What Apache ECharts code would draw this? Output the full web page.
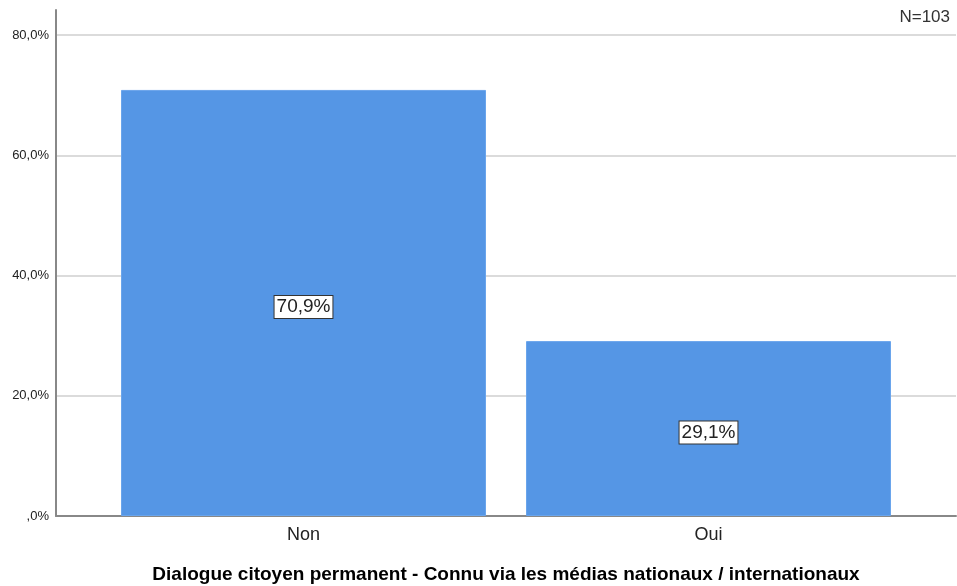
<!DOCTYPE html>
<html>
<head>
<meta charset="utf-8">
<script src="https://cdn.jsdelivr.net/npm/echarts@6/dist/echarts.min.js"></script>
<style>html,body{margin:0;padding:0;background:#fff}#c{width:957px;height:586px}</style>
</head>
<body>
<div id="c"></div>
<script>
var categories = ["Non", "Oui"];
var values = [70.9, 29.1];
var yTicks = [0, 20, 40, 60, 80];
var axisTitle = "Dialogue citoyen permanent - Connu via les médias nationaux / internationaux";
var nLabel = "N=103";

function fmt(v) {
  var s = v.toFixed(1).replace('.', ',');
  if (s.indexOf('0,') === 0) s = s.substring(1);
  return s + '%';
}

var FONT = 'Arial, "Liberation Sans", sans-serif';
var gridColors = ['#cfcfcf', '#cfcfcf', '#cfcfcf', '#cfcfcf', '#cfcfcf', 'rgba(0,0,0,0)'];

var chart = echarts.init(document.getElementById('c'));
chart.setOption({
  animation: false,
  graphic: [{
    type: 'text', right: 7, top: 9,
    style: { text: nLabel, font: '17px ' + FONT, fill: '#333' }
  }],
  grid: [
    { left: 56, right: 1, top: 10, bottom: 70, containLabel: false, outerBoundsMode: 'none' },
    { left: 101, right: 46, top: 10, bottom: 70, containLabel: false, outerBoundsMode: 'none' }
  ],
  xAxis: [
    { type: 'category', gridIndex: 0, data: [''], axisLine: { show: true, lineStyle: { color: '#888', width: 2 } },
      axisTick: { show: false }, axisLabel: { show: false },
      name: axisTitle, nameLocation: 'middle', nameGap: 49,
      nameTextStyle: { fontFamily: FONT, fontWeight: 'bold', fontSize: 19, color: '#000' } },
    { type: 'category', gridIndex: 1, data: categories, axisLine: { show: false }, axisTick: { show: false },
      axisLabel: { fontFamily: FONT, fontSize: 18, color: '#222', margin: 10 } }
  ],
  yAxis: [
    { type: 'value', gridIndex: 0, min: 0, max: 84.2, interval: 20,
      axisLine: { show: true, lineStyle: { color: '#888', width: 2 } }, axisTick: { show: false },
      splitLine: { show: true, lineStyle: { color: gridColors, width: 1.5 } },
      axisLabel: { fontFamily: FONT, fontSize: 13, color: '#222', margin: 7,
        formatter: function (v) { return yTicks.indexOf(v) >= 0 ? fmt(v) : ''; } } },
    { type: 'value', gridIndex: 1, min: 0, max: 84.2, show: false }
  ],
  series: [{
    type: 'bar', xAxisIndex: 1, yAxisIndex: 1, data: values, barWidth: 365,
    itemStyle: { color: '#5596e5', borderColor: '#6aa5ec', borderWidth: 1 },
    label: {
      show: true, position: 'inside', offset: [0, 4],
      formatter: function (p) { return fmt(p.value); },
      fontFamily: FONT, fontSize: 19, color: '#222',
      backgroundColor: '#fff', borderColor: '#333', borderWidth: 1, padding: [2, 2, 1, 2]
    }
  }]
});
</script>
</body>
</html>
